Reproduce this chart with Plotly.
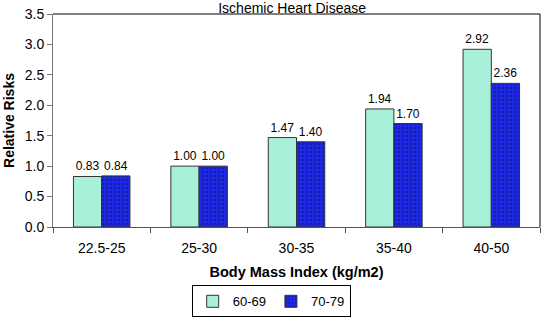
import plotly.graph_objects as go

categories = ["22.5-25", "25-30", "30-35", "35-40", "40-50"]
series_names = ["60-69", "70-79"]
values_60_69 = [0.83, 1.00, 1.47, 1.94, 2.92]
values_70_79 = [0.84, 1.00, 1.40, 1.70, 2.36]
y_ticks = [0.0, 0.5, 1.0, 1.5, 2.0, 2.5, 3.0, 3.5]

font_family = "Liberation Sans, Arial, sans-serif"

fig = go.Figure()
fig.add_trace(go.Bar(
    x=categories, y=values_60_69, name=series_names[0],
    marker=dict(color="#a8f0da", line=dict(color="#333333", width=1)),
    text=[f"{v:.2f}" for v in values_60_69], textposition="outside",
    textfont=dict(size=12, color="#000000"), cliponaxis=False,
))
fig.add_trace(go.Bar(
    x=categories, y=values_70_79, name=series_names[1],
    marker=dict(color="#1c28e6", line=dict(color="#333333", width=1),
                pattern=dict(shape=".", fgcolor="#0a0a40", bgcolor="#1c28e6",
                             size=4, solidity=0.2)),
    text=[f"{v:.2f}" for v in values_70_79], textposition="outside",
    textfont=dict(size=12, color="#000000"), cliponaxis=False,
))

fig.update_layout(
    width=541, height=319,
    margin=dict(l=53, r=1, t=14, b=92, autoexpand=False),
    paper_bgcolor="white", plot_bgcolor="white",
    font=dict(family=font_family, size=14, color="#000000"),
    barmode="group", bargap=0.42, bargroupgap=0,
    title=dict(text="Ischemic Heart Disease", x=0.54, xanchor="center",
               y=0.99, yanchor="top", pad=dict(t=0), font=dict(size=14)),
    showlegend=True,
    legend=dict(orientation="h", x=0.448, xanchor="center", y=-0.274, yanchor="top",
                bordercolor="#000000", borderwidth=1, font=dict(size=13),
                itemwidth=30, tracegroupgap=0),
    xaxis=dict(showline=True, linecolor="#555555", linewidth=1, automargin=False,
               ticks="outside", tickson="boundaries", ticklen=5, tickcolor="#555555",
               tickfont=dict(size=14), ticklabelstandoff=8,
               title=dict(text="<b>Body Mass Index (kg/m2)</b>", font=dict(size=14.5), standoff=12)),
    yaxis=dict(range=[0, 3.5], tickvals=y_ticks, ticktext=[f"{t:.1f}" for t in y_ticks],
               showline=True, linecolor="#777777", linewidth=1, automargin=False,
               ticks="outside", ticklen=5, tickcolor="#777777", showgrid=False,
               zeroline=False, tickfont=dict(size=14),
               title=dict(text="<b>Relative Risks</b>", font=dict(size=14), standoff=6)),
    shapes=[
        dict(type="line", xref="paper", yref="paper", x0=0, x1=1, y0=1, y1=1,
             line=dict(color="#000000", width=1)),
        dict(type="line", xref="paper", yref="paper", x0=1, x1=1, y0=0, y1=1,
             line=dict(color="#000000", width=1)),
    ],
)

fig.write_html("out.html", config={"displayModeBar": False},
               post_script="document.body.style.margin='0';")
